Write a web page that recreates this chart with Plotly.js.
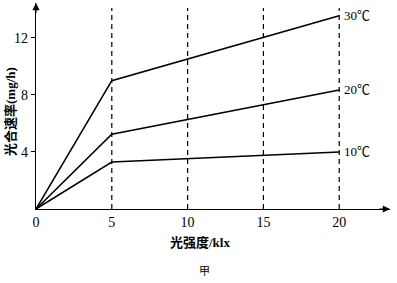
<!DOCTYPE html>
<html><head><meta charset="utf-8">
<script src="https://cdn.plot.ly/plotly-3.0.1.min.js"></script>
<style>html,body{margin:0;padding:0;background:#fff}#c{width:397px;height:283px}</style>
</head><body><div id="c"></div>
<script>
const lightX = [0, 5, 20];
const rate10 = [0, 3.3, 4.0];
const rate20 = [0, 5.25, 8.35];
const rate30 = [0, 9.0, 13.55];
const seriesNames = ['10℃', '20℃', '30℃'];
const gridX = [5, 10, 15, 20];
const xTicks = [0, 5, 10, 15, 20];
const yTicks = [4, 8, 12];

const serif = 'Liberation Serif, Times New Roman, serif';
const mixed = 'Liberation Serif, Noto Sans CJK SC, serif';
const series = [rate10, rate20, rate30];
const traces = series.map((ys, i) => ({
  x: lightX, y: ys, mode: 'lines', name: seriesNames[i],
  line: {color: '#000', width: 1.6}, hoverinfo: 'skip'
}));

const XMAX = 23.35, YMAX = 14.45;
const shapes = gridX.map(v => ({
  type: 'line', xref: 'x', yref: 'y', x0: v, x1: v, y0: 0, y1: 14.1,
  line: {color: '#000', width: 1.2, dash: '5px,4px'}
}));

const annotations = series.map((ys, i) => ({
  x: lightX[lightX.length - 1], y: ys[ys.length - 1], xref: 'x', yref: 'y',
  text: seriesNames[i], showarrow: false, xanchor: 'left', yanchor: 'middle',
  xshift: 3, font: {family: 'Liberation Serif, Noto Sans CJK SC, serif', size: 13, color: '#000'}
}));
// axis arrows
annotations.push({x: XMAX, y: 0, ax: XMAX - 0.8, ay: 0, xref: 'x', yref: 'y', axref: 'x', ayref: 'y',
  text: '', showarrow: true, arrowhead: 2, arrowsize: 1.2, arrowwidth: 1.2, arrowcolor: '#000'});
annotations.push({x: 0, y: YMAX, ax: 0, ay: YMAX - 0.8, xref: 'x', yref: 'y', axref: 'x', ayref: 'y',
  text: '', showarrow: true, arrowhead: 2, arrowsize: 1.2, arrowwidth: 1.2, arrowcolor: '#000'});
annotations.push({x: 0, y: 0.5, xref: 'paper', yref: 'paper', xshift: -26, yshift: -6,
  text: '<b>光合速率(mg/h)</b>', textangle: -90, showarrow: false, xanchor: 'center', yanchor: 'middle',
  font: {family: mixed, size: 13, color: '#000'}});
annotations.push({x: 10.8, y: 0, xref: 'x', yref: 'paper', yshift: -33, yanchor: 'middle',
  text: '<b>光强度/klx</b>', showarrow: false, font: {family: mixed, size: 13, color: '#000'}});
annotations.push({x: 11.1, y: 0, xref: 'x', yref: 'paper', yshift: -61, yanchor: 'middle',
  text: '甲', showarrow: false, font: {family: 'Noto Sans CJK SC, sans-serif', size: 11, color: '#000'}});

const layout = {
  width: 397, height: 283,
  margin: {l: 36, r: 7, t: 3, b: 74},
  paper_bgcolor: '#fff', plot_bgcolor: '#fff',
  showlegend: false,
  xaxis: {range: [0, XMAX], tickvals: xTicks, ticktext: xTicks.map(String), showgrid: false, zeroline: false,
    showline: true, linecolor: '#000', linewidth: 1.2, ticks: '', ticklen: 0,
    tickfont: {family: serif, size: 14, color: '#000'}},
  yaxis: {range: [0, YMAX], tickvals: yTicks, ticktext: yTicks.map(String), showgrid: false, zeroline: false,
    showline: true, linecolor: '#000', linewidth: 1.2, ticks: 'outside', ticklen: 4, tickcolor: '#000',
    tickfont: {family: serif, size: 14, color: '#000'}},
  shapes: shapes, annotations: annotations
};
Plotly.newPlot('c', traces, layout, {staticPlot: true, displayModeBar: false});
</script></body></html>
